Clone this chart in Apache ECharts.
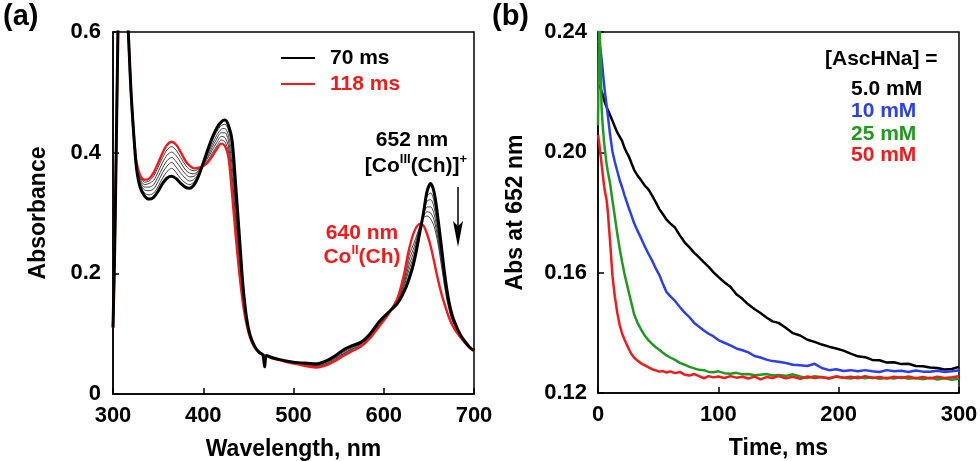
<!DOCTYPE html>
<html>
<head>
<meta charset="utf-8">
<script src="https://cdn.jsdelivr.net/npm/echarts@6/dist/echarts.min.js"></script>
<style>
  html, body { margin: 0; padding: 0; background: #fff; }
  #chart { width: 980px; height: 461px; }
</style>
</head>
<body>
<div id="chart"></div>
<script>
// (a) 光谱：波长 nm
var wavelength = [300, 302, 304, 306, 308, 314, 316, 318, 320, 323, 326, 330, 335, 340, 345, 350, 355, 360, 365, 370,
    375, 380, 385, 390, 395, 400, 405, 410, 415, 420, 424, 428, 432, 436, 440, 444, 448, 452, 457, 462,
    466, 468, 470, 475, 485, 495, 505, 515, 525, 535, 545, 555, 565, 575, 585, 595, 605, 615, 622, 628,
    634, 640, 644, 648, 652, 656, 660, 664, 668, 672, 676, 680, 685, 690, 695, 700];

// 70 ms (black, thick)
var abs70 = [0.11, 0.25, 0.45, 0.65, 0.80, 0.80, 0.64, 0.565, 0.50, 0.43, 0.375, 0.343, 0.328, 0.323, 0.326, 0.336, 0.349, 0.358, 0.361, 0.357,
    0.349, 0.343, 0.341, 0.347, 0.362, 0.383, 0.405, 0.425, 0.441, 0.451, 0.454, 0.445, 0.420, 0.345, 0.262, 0.180, 0.126, 0.097, 0.079, 0.069,
    0.065, 0.045, 0.064, 0.061, 0.057, 0.054, 0.052, 0.051, 0.050, 0.054, 0.062, 0.073, 0.080, 0.086, 0.100, 0.120, 0.135, 0.150, 0.168, 0.190,
    0.222, 0.268, 0.300, 0.336, 0.349, 0.333, 0.292, 0.243, 0.193, 0.155, 0.130, 0.114, 0.098, 0.087, 0.078, 0.072];

// intermediate traces (thin)
var absT1 = [0.11, 0.25, 0.45, 0.65, 0.80, 0.80, 0.64, 0.565, 0.50, 0.43, 0.377, 0.347, 0.333, 0.330, 0.333, 0.344, 0.358, 0.369, 0.374, 0.367,
    0.357, 0.350, 0.347, 0.352, 0.364, 0.382, 0.401, 0.420, 0.435, 0.445, 0.447, 0.437, 0.408, 0.332, 0.252, 0.175, 0.124, 0.096, 0.079, 0.069,
    0.065, 0.064, 0.063, 0.061, 0.057, 0.054, 0.052, 0.050, 0.049, 0.053, 0.061, 0.071, 0.079, 0.085, 0.099, 0.119, 0.134, 0.151, 0.172, 0.198,
    0.226, 0.270, 0.300, 0.328, 0.333, 0.318, 0.282, 0.236, 0.189, 0.152, 0.128, 0.113, 0.097, 0.087, 0.078, 0.072];
var absT2 = [0.11, 0.25, 0.45, 0.65, 0.80, 0.80, 0.64, 0.565, 0.50, 0.43, 0.379, 0.350, 0.338, 0.337, 0.340, 0.352, 0.367, 0.378, 0.384, 0.376,
    0.366, 0.358, 0.353, 0.356, 0.366, 0.381, 0.398, 0.414, 0.429, 0.439, 0.440, 0.428, 0.393, 0.318, 0.241, 0.169, 0.122, 0.095, 0.078, 0.069,
    0.065, 0.064, 0.063, 0.060, 0.057, 0.053, 0.051, 0.049, 0.048, 0.052, 0.059, 0.069, 0.077, 0.084, 0.098, 0.118, 0.134, 0.152, 0.176, 0.206,
    0.232, 0.272, 0.298, 0.320, 0.322, 0.308, 0.274, 0.230, 0.185, 0.150, 0.126, 0.112, 0.096, 0.086, 0.078, 0.072];
var absT3 = [0.11, 0.25, 0.45, 0.65, 0.80, 0.80, 0.64, 0.565, 0.50, 0.43, 0.381, 0.354, 0.343, 0.343, 0.347, 0.360, 0.375, 0.387, 0.392, 0.385,
    0.375, 0.365, 0.360, 0.361, 0.369, 0.380, 0.394, 0.409, 0.423, 0.433, 0.433, 0.419, 0.378, 0.304, 0.230, 0.163, 0.120, 0.095, 0.078, 0.069,
    0.065, 0.064, 0.063, 0.060, 0.056, 0.053, 0.051, 0.048, 0.047, 0.050, 0.058, 0.067, 0.075, 0.083, 0.097, 0.116, 0.134, 0.154, 0.180, 0.214,
    0.238, 0.274, 0.296, 0.310, 0.310, 0.297, 0.266, 0.224, 0.181, 0.147, 0.125, 0.111, 0.096, 0.086, 0.077, 0.072];
var absT4 = [0.11, 0.25, 0.45, 0.65, 0.80, 0.80, 0.64, 0.565, 0.50, 0.43, 0.382, 0.357, 0.347, 0.349, 0.354, 0.368, 0.384, 0.396, 0.401, 0.395,
    0.384, 0.372, 0.366, 0.365, 0.371, 0.380, 0.391, 0.404, 0.417, 0.427, 0.425, 0.410, 0.362, 0.290, 0.219, 0.158, 0.118, 0.094, 0.078, 0.069,
    0.065, 0.064, 0.063, 0.060, 0.056, 0.053, 0.050, 0.047, 0.046, 0.049, 0.056, 0.066, 0.074, 0.081, 0.095, 0.115, 0.133, 0.155, 0.185, 0.222,
    0.245, 0.276, 0.294, 0.302, 0.300, 0.287, 0.258, 0.218, 0.177, 0.145, 0.123, 0.110, 0.095, 0.086, 0.077, 0.071];
var absT5 = [0.11, 0.25, 0.45, 0.65, 0.80, 0.80, 0.64, 0.565, 0.50, 0.43, 0.384, 0.360, 0.351, 0.353, 0.361, 0.376, 0.392, 0.405, 0.410, 0.404,
    0.392, 0.380, 0.372, 0.370, 0.373, 0.379, 0.387, 0.399, 0.411, 0.421, 0.418, 0.401, 0.347, 0.276, 0.209, 0.153, 0.116, 0.093, 0.077, 0.069,
    0.065, 0.064, 0.063, 0.060, 0.056, 0.052, 0.050, 0.047, 0.045, 0.048, 0.055, 0.064, 0.072, 0.080, 0.094, 0.113, 0.132, 0.157, 0.190, 0.230,
    0.252, 0.278, 0.292, 0.295, 0.290, 0.277, 0.250, 0.212, 0.173, 0.142, 0.121, 0.108, 0.095, 0.085, 0.077, 0.071];

// 118 ms (red)
var abs118 = [0.11, 0.25, 0.45, 0.65, 0.80, 0.80, 0.64, 0.565, 0.50, 0.43, 0.385, 0.363, 0.355, 0.357, 0.367, 0.383, 0.400, 0.413, 0.418, 0.413,
    0.401, 0.387, 0.378, 0.374, 0.375, 0.378, 0.384, 0.394, 0.406, 0.415, 0.411, 0.392, 0.330, 0.262, 0.200, 0.150, 0.115, 0.093, 0.077, 0.069,
    0.065, 0.064, 0.063, 0.060, 0.056, 0.052, 0.049, 0.046, 0.044, 0.047, 0.054, 0.063, 0.071, 0.079, 0.093, 0.112, 0.132, 0.158, 0.195, 0.240,
    0.270, 0.282, 0.279, 0.265, 0.245, 0.218, 0.190, 0.166, 0.146, 0.128, 0.114, 0.104, 0.094, 0.085, 0.077, 0.071];

// (b) 652 nm 处随时间变化
var timeMs = [0, 1, 2, 3, 4, 5, 6, 7, 8, 10, 12, 14, 16, 18, 20, 22, 24, 26, 28, 30,
    33, 36, 39, 42, 45, 48, 51, 54, 57, 60, 64, 68, 72, 76, 80, 84, 88, 92, 96, 100,
    105, 110, 115, 120, 125, 130, 135, 140, 145, 150, 156, 162, 168, 174, 180, 186, 192, 198, 204, 210,
    216, 222, 228, 234, 240, 246, 252, 258, 264, 270, 276, 282, 288, 294, 300];

var asc5 = [0.2225, 0.2222, 0.2215, 0.2202, 0.2190, 0.2175, 0.2162, 0.2152, 0.2142, 0.2124, 0.2105, 0.2085, 0.2066, 0.2052, 0.2038, 0.2015, 0.1998, 0.1983, 0.1962, 0.1942,
    0.1922, 0.1906, 0.1889, 0.1876, 0.1856, 0.1834, 0.1811, 0.1794, 0.1776, 0.1764, 0.1750, 0.1724, 0.1701, 0.1684, 0.1666, 0.1651, 0.1634, 0.1619, 0.1601, 0.1586,
    0.1568, 0.1553, 0.1528, 0.1513, 0.1494, 0.1479, 0.1466, 0.1451, 0.1438, 0.1433, 0.1417, 0.1399, 0.1391, 0.1377, 0.1370, 0.1361, 0.1354, 0.1348, 0.1341, 0.1331,
    0.1322, 0.1319, 0.1310, 0.1309, 0.1301, 0.1302, 0.1296, 0.1297, 0.1290, 0.1289, 0.1285, 0.1283, 0.1278, 0.1280, 0.1287];
var asc10 = [0.2370, 0.2362, 0.2345, 0.2310, 0.2268, 0.2228, 0.2192, 0.2160, 0.2128, 0.2060, 0.2003, 0.1968, 0.1938, 0.1908, 0.1884, 0.1858, 0.1834, 0.1810, 0.1788, 0.1765,
    0.1738, 0.1713, 0.1686, 0.1662, 0.1640, 0.1614, 0.1592, 0.1562, 0.1535, 0.1522, 0.1506, 0.1486, 0.1467, 0.1452, 0.1433, 0.1420, 0.1408, 0.1397, 0.1388, 0.1376,
    0.1367, 0.1358, 0.1348, 0.1342, 0.1335, 0.1323, 0.1318, 0.1311, 0.1306, 0.1304, 0.1300, 0.1294, 0.1292, 0.1290, 0.1297, 0.1283, 0.1276, 0.1279, 0.1273, 0.1276,
    0.1272, 0.1276, 0.1272, 0.1270, 0.1276, 0.1272, 0.1274, 0.1270, 0.1275, 0.1271, 0.1271, 0.1274, 0.1270, 0.1272, 0.1275];
var asc25 = [0.2090, 0.2450, 0.2330, 0.2146, 0.2085, 0.2035, 0.2000, 0.1965, 0.1940, 0.1897, 0.1840, 0.1786, 0.1730, 0.1680, 0.1636, 0.1596, 0.1562, 0.1528, 0.1495, 0.1462,
    0.1432, 0.1410, 0.1390, 0.1375, 0.1363, 0.1352, 0.1344, 0.1334, 0.1325, 0.1318, 0.1310, 0.1300, 0.1294, 0.1287, 0.1282, 0.1277, 0.1276, 0.1270, 0.1269, 0.1272,
    0.1266, 0.1264, 0.1267, 0.1262, 0.1263, 0.1259, 0.1261, 0.1263, 0.1258, 0.1260, 0.1257, 0.1262, 0.1255, 0.1250, 0.1256, 0.1252, 0.1249, 0.1255, 0.1251, 0.1248,
    0.1254, 0.1249, 0.1252, 0.1247, 0.1251, 0.1248, 0.1253, 0.1247, 0.1250, 0.1246, 0.1251, 0.1245, 0.1249, 0.1244, 0.1247];
var asc50 = [0.2058, 0.2030, 0.1995, 0.1960, 0.1925, 0.1890, 0.1865, 0.1845, 0.1810, 0.1705, 0.1590, 0.1520, 0.1467, 0.1426, 0.1398, 0.1378, 0.1360, 0.1343, 0.1328, 0.1318,
    0.1307, 0.1298, 0.1292, 0.1285, 0.1279, 0.1275, 0.1271, 0.1273, 0.1268, 0.1272, 0.1266, 0.1270, 0.1261, 0.1258, 0.1263, 0.1256, 0.1249, 0.1256, 0.1252, 0.1255,
    0.1250, 0.1256, 0.1251, 0.1254, 0.1248, 0.1255, 0.1245, 0.1253, 0.1250, 0.1256, 0.1249, 0.1254, 0.1247, 0.1255, 0.1250, 0.1253, 0.1248, 0.1255, 0.1251, 0.1254,
    0.1249, 0.1256, 0.1250, 0.1253, 0.1248, 0.1254, 0.1250, 0.1255, 0.1249, 0.1253, 0.1248, 0.1254, 0.1250, 0.1252, 0.1256];

var RED = '#f41a1a', BLUE = '#2b3ff0', GREEN = '#1f9a1f';
var FONT = '"Liberation Sans", Arial, Helvetica, sans-serif';

function zip(xs, ys) {
    var out = [];
    for (var i = 0; i < xs.length; i++) out.push([xs[i], ys[i]]);
    return out;
}

var chart = echarts.init(document.getElementById('chart'), null, { renderer: 'canvas' });

var labelStyle = { color: '#000', fontSize: 22, fontWeight: 'bold', fontFamily: FONT };
var nameStyle = { color: '#000', fontSize: 23, fontWeight: 'bold', fontFamily: FONT };
var axLine = { show: true, lineStyle: { color: '#000', width: 1.5 } };
var axTick = { show: true, inside: true, length: 6, lineStyle: { color: '#000', width: 1.5 } };

function specLine(name, data, color, width, z) {
    return {
        name: name, type: 'line', xAxisIndex: 0, yAxisIndex: 0,
        data: data, symbol: 'none', smooth: 0.3, z: z,
        lineStyle: { color: color, width: width },
        itemStyle: { color: color }
    };
}
function kinLine(name, data, color) {
    return {
        name: name, type: 'line', xAxisIndex: 1, yAxisIndex: 1,
        data: data, symbol: 'none',
        lineStyle: { color: color, width: 2.5 },
        itemStyle: { color: color }
    };
}

chart.setOption({
    animation: false,
    backgroundColor: '#fff',
    grid: [
        { left: 113, top: 32, width: 361, height: 362, show: true, borderColor: '#000', borderWidth: 1.5, outerBoundsMode: 'none' },
        { left: 598, top: 32, width: 361, height: 361, show: true, borderColor: '#000', borderWidth: 1.5, outerBoundsMode: 'none' }
    ],
    xAxis: [
        {
            gridIndex: 0, type: 'value', min: 300, max: 700, interval: 100,
            axisLine: axLine, axisTick: axTick, splitLine: { show: false },
            axisLabel: Object.assign({ margin: 11 }, labelStyle),
            name: 'Wavelength, nm', nameLocation: 'middle', nameGap: 44, nameTextStyle: nameStyle
        },
        {
            gridIndex: 1, type: 'value', min: 0, max: 300, interval: 100,
            axisLine: axLine, axisTick: axTick, splitLine: { show: false },
            axisLabel: Object.assign({ margin: 11 }, labelStyle),
            name: 'Time, ms', nameLocation: 'middle', nameGap: 44, nameTextStyle: nameStyle
        }
    ],
    yAxis: [
        {
            gridIndex: 0, type: 'value', min: 0, max: 0.6, interval: 0.2,
            axisLine: axLine, axisTick: axTick, splitLine: { show: false },
            axisLabel: Object.assign({
                margin: 12,
                formatter: function (v) { return v === 0 ? '0' : v.toFixed(1); }
            }, labelStyle),
            name: 'Absorbance', nameLocation: 'middle', nameRotate: 90, nameGap: 63, nameTextStyle: nameStyle
        },
        {
            gridIndex: 1, type: 'value', min: 0.12, max: 0.24, interval: 0.04,
            axisLine: axLine, axisTick: axTick, splitLine: { show: false },
            axisLabel: Object.assign({
                margin: 11,
                formatter: function (v) { return v.toFixed(2); }
            }, labelStyle),
            name: 'Abs at 652 nm', nameLocation: 'middle', nameRotate: 90, nameGap: 71, nameTextStyle: nameStyle
        }
    ],
    legend: {
        left: 281, top: 45, padding: 0, orient: 'vertical', itemWidth: 34, itemHeight: 2, itemGap: 0,
        icon: 'rect', selectedMode: false,
        data: [
            { name: '70 ms', textStyle: { color: '#000' } },
            { name: '118 ms', textStyle: { color: RED } }
        ],
        textStyle: { fontSize: 21, fontWeight: 'bold', fontFamily: FONT, lineHeight: 26, padding: [0, 0, 0, 10] }
    },
    series: [
        specLine('t1', zip(wavelength, absT1), '#2a2a2a', 0.9, 2),
        specLine('t2', zip(wavelength, absT2), '#2a2a2a', 0.9, 2),
        specLine('t3', zip(wavelength, absT3), '#2a2a2a', 0.9, 2),
        specLine('t4', zip(wavelength, absT4), '#2a2a2a', 0.9, 2),
        specLine('t5', zip(wavelength, absT5), '#2a2a2a', 0.9, 2),
        specLine('118 ms', zip(wavelength, abs118), RED, 2.4, 3),
        specLine('70 ms', zip(wavelength, abs70), '#000', 3, 4),
        kinLine('5.0 mM', zip(timeMs, asc5), '#000'),
        kinLine('10 mM', zip(timeMs, asc10), BLUE),
        kinLine('25 mM', zip(timeMs, asc25), GREEN),
        kinLine('50 mM', zip(timeMs, asc50), RED)
    ],
    graphic: [
        // panel labels
        { type: 'text', x: 3, y: 17, style: { text: '(a)', fill: '#000', font: 'bold 29px ' + FONT, verticalAlign: 'middle' } },
        { type: 'text', x: 492, y: 17, style: { text: '(b)', fill: '#000', font: 'bold 29px ' + FONT, verticalAlign: 'middle' } },
        // annotations in (a)
        { type: 'text', x: 412, y: 140, style: { text: '652 nm', fill: '#000', font: 'bold 21px ' + FONT, align: 'center', verticalAlign: 'middle' } },
        {
            type: 'text', x: 416, y: 166,
            style: {
                text: '{m|[Co}{s|III}{m|(Ch)]}{s|+}', align: 'center', verticalAlign: 'middle',
                rich: {
                    m: { fill: '#000', fontSize: 21, fontWeight: 'bold', fontFamily: FONT, lineHeight: 26 },
                    s: { fill: '#000', fontSize: 13, fontWeight: 'bold', fontFamily: FONT, lineHeight: 26, verticalAlign: 'top' }
                }
            }
        },
        { type: 'text', x: 362, y: 233, style: { text: '640 nm', fill: RED, font: 'bold 21px ' + FONT, align: 'center', verticalAlign: 'middle' } },
        {
            type: 'text', x: 362, y: 257,
            style: {
                text: '{m|Co}{s|II}{m|(Ch)}', align: 'center', verticalAlign: 'middle',
                rich: {
                    m: { fill: RED, fontSize: 21, fontWeight: 'bold', fontFamily: FONT, lineHeight: 26 },
                    s: { fill: RED, fontSize: 13, fontWeight: 'bold', fontFamily: FONT, lineHeight: 26, verticalAlign: 'top' }
                }
            }
        },
        // arrow
        { type: 'line', shape: { x1: 458, y1: 187, x2: 458, y2: 226 }, style: { stroke: '#000', lineWidth: 1.5 } },
        { type: 'polygon', shape: { points: [[453, 221], [458, 226], [463, 221], [458, 247]] }, style: { fill: '#000' } },
        // legend text in (b)
        { type: 'text', x: 825, y: 59, style: { text: '[AscHNa] =', fill: '#000', font: 'bold 21px ' + FONT, verticalAlign: 'middle' } },
        { type: 'text', x: 851, y: 89, style: { text: '5.0 mM', fill: '#000', font: 'bold 21px ' + FONT, verticalAlign: 'middle' } },
        { type: 'text', x: 851, y: 111, style: { text: '10 mM', fill: BLUE, font: 'bold 21px ' + FONT, verticalAlign: 'middle' } },
        { type: 'text', x: 851, y: 134, style: { text: '25 mM', fill: GREEN, font: 'bold 21px ' + FONT, verticalAlign: 'middle' } },
        { type: 'text', x: 851, y: 155, style: { text: '50 mM', fill: RED, font: 'bold 21px ' + FONT, verticalAlign: 'middle' } }
    ]
});
</script>
</body>
</html>
